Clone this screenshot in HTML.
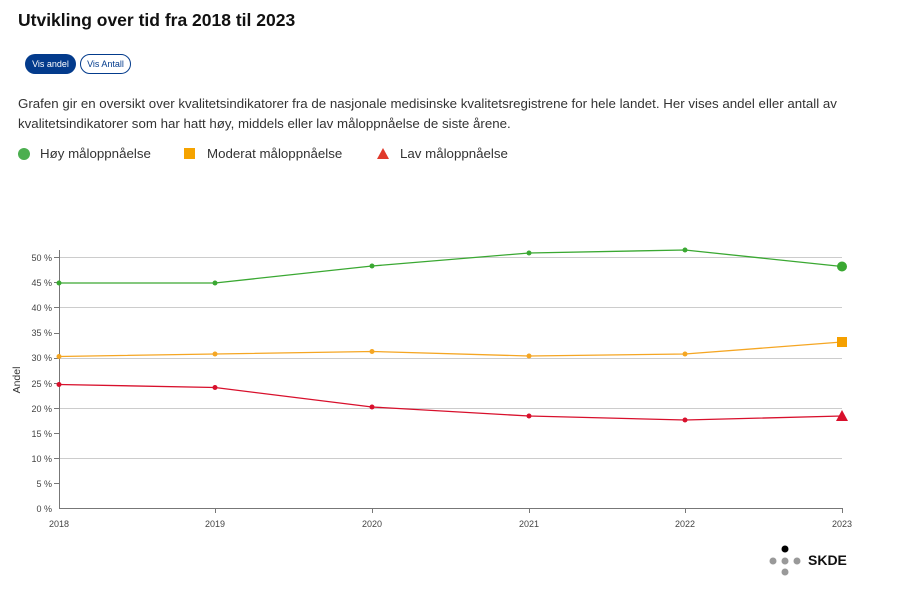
<!DOCTYPE html><html><head><meta charset="utf-8"><style>
body{margin:0;width:900px;height:600px;background:#fff;font-family:"Liberation Sans",sans-serif;color:#222;position:relative;overflow:hidden}
h1{position:absolute;left:18px;top:10px;margin:0;font-size:17.5px;font-weight:bold;color:#111}
.b{position:absolute;top:54px;height:20px;border-radius:11px;font-size:9px;line-height:20px;text-align:center}
p{position:absolute;left:18px;top:94px;margin:0;font-size:13.3px;line-height:20px;width:870px;color:#333}
.lg{position:absolute;top:146px;font-size:13.3px;color:#333}
</style></head><body>
<h1>Utvikling over tid fra 2018 til 2023</h1>
<div class="b" style="left:25px;width:51px;background:#033b8c;color:#fff">Vis andel</div>
<div class="b" style="left:80px;width:49px;border:1px solid #033b8c;height:18px;line-height:18px;color:#033b8c">Vis Antall</div>
<p>Grafen gir en oversikt over kvalitetsindikatorer fra de nasjonale medisinske kvalitetsregistrene for hele landet. Her vises andel eller antall av kvalitetsindikatorer som har hatt høy, middels eller lav måloppnåelse de siste årene.</p>
<svg width="900" height="600" style="position:absolute;left:0;top:0">
<circle cx="24" cy="154" r="6" fill="#4caf50"/>
<rect x="184" y="148" width="11" height="11" fill="#f5a300"/>
<polygon points="383,148 389,159 377,159" fill="#e0392b"/>
<g stroke="#ccc" stroke-width="1">
<line x1="59" x2="842" y1="257.5" y2="257.5"/><line x1="59" x2="842" y1="307.5" y2="307.5"/><line x1="59" x2="842" y1="358.5" y2="358.5"/><line x1="59" x2="842" y1="408.5" y2="408.5"/><line x1="59" x2="842" y1="458.5" y2="458.5"/></g>
<g stroke="#777"><line x1="59.5" y1="250" x2="59.5" y2="509"/><line x1="59" y1="508.5" x2="842" y2="508.5"/>
<line x1="842.5" y1="508" x2="842.5" y2="513"/><line x1="215.5" y1="508" x2="215.5" y2="513"/><line x1="372.5" y1="508" x2="372.5" y2="513"/><line x1="529.5" y1="508" x2="529.5" y2="513"/><line x1="685.5" y1="508" x2="685.5" y2="513"/></g>
<g font-size="9" fill="#444" text-anchor="end">
<text x="52" y="261">50 %</text><text x="52" y="286">45 %</text><text x="52" y="311">40 %</text><text x="52" y="336">35 %</text><text x="52" y="361">30 %</text><text x="52" y="387">25 %</text><text x="52" y="412">20 %</text><text x="52" y="437">15 %</text><text x="52" y="462">10 %</text><text x="52" y="487">5 %</text><text x="52" y="512">0 %</text></g>
<g stroke="#777"><line x1="54" x2="59" y1="257.5" y2="257.5"/><line x1="54" x2="59" y1="282.5" y2="282.5"/><line x1="54" x2="59" y1="307.5" y2="307.5"/><line x1="54" x2="59" y1="333.5" y2="333.5"/><line x1="54" x2="59" y1="358.5" y2="358.5"/><line x1="54" x2="59" y1="383.5" y2="383.5"/><line x1="54" x2="59" y1="408.5" y2="408.5"/><line x1="54" x2="59" y1="433.5" y2="433.5"/><line x1="54" x2="59" y1="458.5" y2="458.5"/><line x1="54" x2="59" y1="483.5" y2="483.5"/></g>
<g font-size="9" fill="#444" text-anchor="middle">
<text x="59" y="527">2018</text><text x="215" y="527">2019</text><text x="372" y="527">2020</text><text x="529" y="527">2021</text><text x="685" y="527">2022</text><text x="842" y="527">2023</text></g>
<text transform="translate(20,380) rotate(-90)" font-size="10.5" fill="#333" text-anchor="middle">Andel</text>
<polyline fill="none" stroke="#3aa832" stroke-width="1.3" points="59,283 215,283 372,266 529,253 685,250 842,266.5"/>
<polyline fill="none" stroke="#f5a623" stroke-width="1.3" points="59,356.5 215,354 372,351.5 529,356 685,354 842,342"/>
<polyline fill="none" stroke="#d8102c" stroke-width="1.3" points="59,384.5 215,387.5 372,407 529,416 685,420 842,416"/>
<g fill="#3aa832"><circle cx="59" cy="283" r="2.5"/><circle cx="215" cy="283" r="2.5"/><circle cx="372" cy="266" r="2.5"/><circle cx="529" cy="253" r="2.5"/><circle cx="685" cy="250" r="2.5"/><circle cx="842" cy="266.5" r="5"/></g>
<g fill="#f5a623"><circle cx="59" cy="356.5" r="2.5"/><circle cx="215" cy="354" r="2.5"/><circle cx="372" cy="351.5" r="2.5"/><circle cx="529" cy="356" r="2.5"/><circle cx="685" cy="354" r="2.5"/><rect x="837" y="337" width="10" height="10" fill="#f5a000"/></g>
<g fill="#d8102c"><circle cx="59" cy="384.5" r="2.5"/><circle cx="215" cy="387.5" r="2.5"/><circle cx="372" cy="407" r="2.5"/><circle cx="529" cy="416" r="2.5"/><circle cx="685" cy="420" r="2.5"/><polygon points="842,410 848,421 836,421"/></g>
<circle cx="785" cy="549" r="3.5" fill="#000"/>
<g fill="#999"><circle cx="773" cy="561" r="3.5"/><circle cx="785" cy="561" r="3.5"/><circle cx="797" cy="561" r="3.5"/><circle cx="785" cy="572" r="3.5"/></g>
<text x="808" y="565" font-size="14" font-weight="bold" fill="#111">SKDE</text>
</svg>
<div class="lg" style="left:40px">Høy måloppnåelse</div>
<div class="lg" style="left:207px">Moderat måloppnåelse</div>
<div class="lg" style="left:400px">Lav måloppnåelse</div>
</body></html>
